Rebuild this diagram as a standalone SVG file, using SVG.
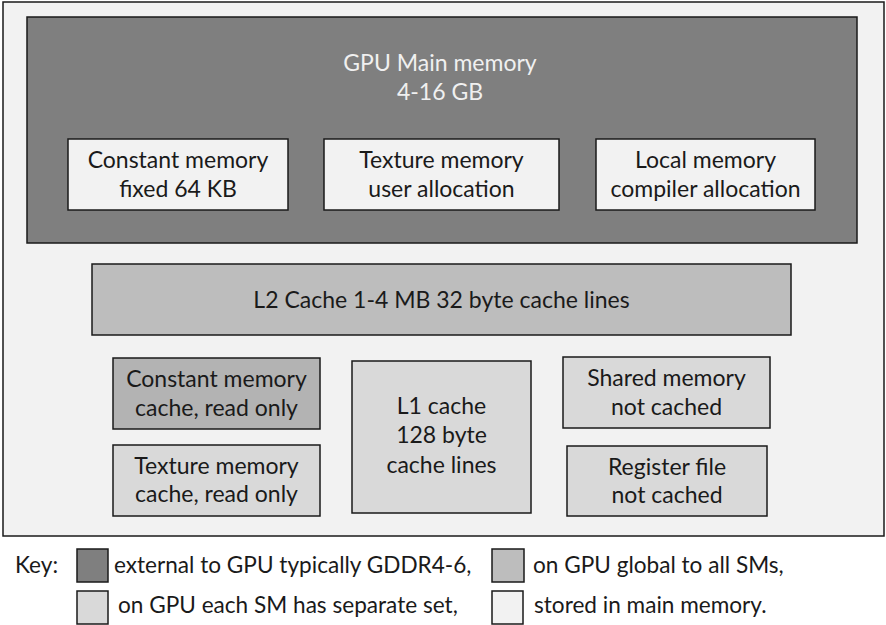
<svg xmlns="http://www.w3.org/2000/svg" width="886" height="625" viewBox="0 0 886 625">
<style>
text{font-family:Lato,"Liberation Sans",sans-serif;font-size:23px;fill:#1a1a1a;text-anchor:middle}
.box{stroke:#1a1a1a;stroke-width:1.5}
.dark{fill:#7f7f7f}
.mid{fill:#bdbdbd}
.light{fill:#d9d9d9}
.pale{fill:#f2f2f2}
.key{text-anchor:start;font-size:22.6px}
</style>
<rect x="0" y="0" width="886" height="625" fill="#ffffff"/>
<g id="gpu">
<rect class="box pale" x="3" y="2" width="881" height="534"/>
</g>
<g id="main-memory">
<rect class="box dark" x="27" y="17" width="830" height="226"/>
<text x="440" y="71" style="fill:#f0f0f0">GPU Main memory</text>
<text x="440" y="100" style="fill:#f0f0f0">4-16 GB</text>
</g>
<g id="constant-memory">
<rect class="box pale" x="68" y="139" width="220" height="71"/>
<text x="178" y="168">Constant memory</text>
<text x="178" y="197">fixed 64 KB</text>
</g>
<g id="texture-memory">
<rect class="box pale" x="324" y="139" width="235" height="71"/>
<text x="441.5" y="168">Texture memory</text>
<text x="441.5" y="197">user allocation</text>
</g>
<g id="local-memory">
<rect class="box pale" x="596" y="139" width="219" height="71"/>
<text x="705.5" y="168">Local memory</text>
<text x="705.5" y="197">compiler allocation</text>
</g>
<g id="l2-cache">
<rect class="box mid" x="92" y="264" width="699" height="71"/>
<text x="441.5" y="308">L2 Cache 1-4 MB 32 byte cache lines</text>
</g>
<g id="constant-cache">
<rect class="box mid" x="113" y="358" width="207" height="71" style="fill:#b3b3b3"/>
<text x="216.5" y="387">Constant memory</text>
<text x="216.5" y="416">cache, read only</text>
</g>
<g id="texture-cache">
<rect class="box light" x="113" y="445" width="207" height="71"/>
<text x="216.5" y="474">Texture memory</text>
<text x="216.5" y="502">cache, read only</text>
</g>
<g id="l1-cache">
<rect class="box light" x="352" y="361" width="179" height="152"/>
<text x="441.5" y="414">L1 cache</text>
<text x="441.5" y="443">128 byte</text>
<text x="441.5" y="473">cache lines</text>
</g>
<g id="shared-memory">
<rect class="box light" x="563" y="357" width="207" height="71"/>
<text x="666.5" y="386">Shared memory</text>
<text x="666.5" y="415">not cached</text>
</g>
<g id="register-file">
<rect class="box light" x="567" y="446" width="200" height="70"/>
<text x="667" y="475">Register file</text>
<text x="667" y="503">not cached</text>
</g>
<g id="connectors"></g>
<g id="legend">
<text class="key" x="15" y="573">Key:</text>
<rect class="box dark" x="77" y="549" width="31" height="33"/>
<text class="key" x="114" y="573">external to GPU typically GDDR4-6,</text>
<rect class="box mid" x="492" y="549" width="32" height="33"/>
<text class="key" x="533" y="573">on GPU global to all SMs,</text>
<rect class="box light" x="77" y="591" width="31" height="33"/>
<text class="key" x="118" y="613">on GPU each SM has separate set,</text>
<rect class="box pale" x="492" y="591" width="31" height="33"/>
<text class="key" x="534" y="613">stored in main memory.</text>
</g>
</svg>
